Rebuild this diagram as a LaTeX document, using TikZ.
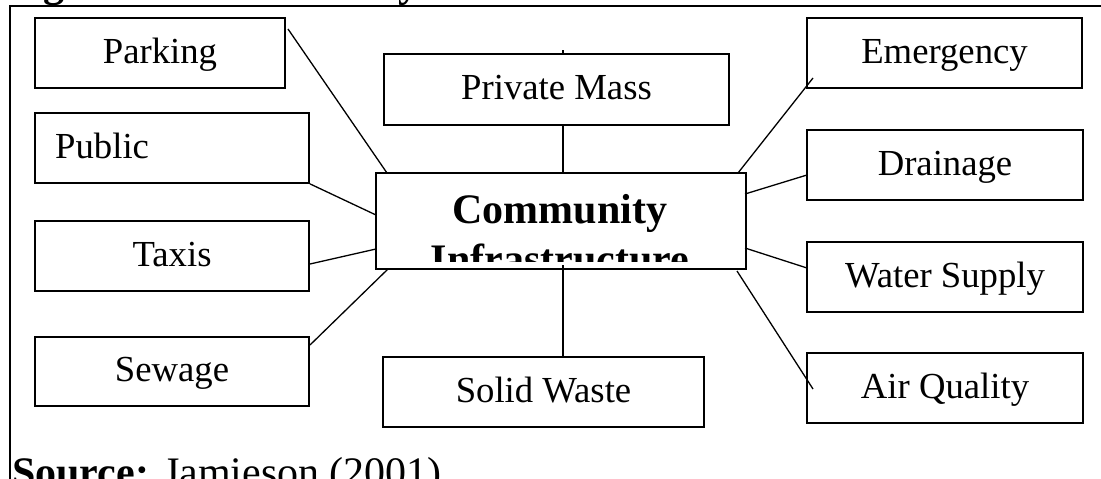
\documentclass[tikz,border=0pt]{standalone}
\usepackage{fontspec}
\setmainfont{Liberation Serif}
\begin{document}
\begin{tikzpicture}[x=1pt,y=-1pt,
  boxfont/.style={font=\fontsize{36.7}{44}\selectfont},
  bigfont/.style={font=\fontsize{42}{50}\selectfont},
  boldbig/.style={font=\fontsize{42}{50}\selectfont\bfseries},
  box/.style={draw, line width=1.6pt, inner sep=0pt, minimum height=70pt,
    text height=27pt, text depth=7pt, boxfont},
  link/.style={line width=1.3pt},
  txt/.style={inner sep=0pt}]
\useasboundingbox (0,0) rectangle (1101,479);
\clip (0,0) rectangle (1101,479);
% frame
\draw[line width=1.6pt] (10,6) rectangle (1130,520);
% title (cut off at top)
\node[txt, anchor=base west, boldbig] (title) at (6,-4) {Figure 10: Community};
% boxes
\node[box, minimum width=250pt] (park) at (160,53) {Parking};
\node[box, minimum width=274pt] (pub) at (172,148) {};
\node[txt, anchor=base west, boxfont] (pubt) at (55,158) {Public};
\node[box, minimum width=274pt] (taxi) at (172,256) {Taxis};
\node[box, minimum width=274pt, minimum height=69pt] (sew) at (172,371.5) {Sewage};
\node[box, minimum width=345pt, minimum height=71pt] (pm) at (556.5,89.5) {Private Mass};
\node[box, minimum width=321pt] (sw) at (543.5,392) {Solid Waste};
\node[box, minimum width=275pt] (emer) at (944.5,53) {Emergency};
\node[box, minimum width=276pt] (drain) at (945,165) {Drainage};
\node[box, minimum width=276pt] (water) at (945,277) {Water Supply};
\node[box, minimum width=276pt] (air) at (945,388) {Air Quality};
\node[box, minimum width=370pt, minimum height=96pt] (ci) at (561,221) {};
\begin{scope}
  \clip (378,175) rectangle (744,261);
  \node[txt, anchor=base, boldbig] (cit1) at (560,223) {Community};
  \node[txt, anchor=base, boldbig] (cit2) at (560,273) {Infrastructure};
\end{scope}
% connector end points
\coordinate (pa1) at (288,29);   \coordinate (pa2) at (387,173);
\coordinate (pu2) at (376,215);
\coordinate (ta1) at (310,264);  \coordinate (ta2) at (376,249);
\coordinate (se1) at (310,345);  \coordinate (se2) at (388,269);
\coordinate (pt0) at (563,50);   \coordinate (pt1) at (563,54);
\coordinate (pm1) at (563,125);  \coordinate (pm2) at (563,173);
\coordinate (sw1) at (563,265);  \coordinate (sw2) at (563,357);
\coordinate (em1) at (738,173);  \coordinate (em2) at (813,78);
\coordinate (dr1) at (745,194);  \coordinate (dr2) at (807,175);
\coordinate (wa1) at (745,248);  \coordinate (wa2) at (807,268);
\coordinate (ai1) at (737,271);  \coordinate (ai2) at (813,389);
% connectors
\draw[link] (pa1) -- (pa2);
\draw[link] (pub.south east) -- (pu2);
\draw[link] (ta1) -- (ta2);
\draw[link] (se1) -- (se2);
\draw[link] (pt0) -- (pt1);
\draw[link] (pm1) -- (pm2);
\draw[link] (sw1) -- (sw2);
\draw[link] (em1) -- (em2);
\draw[link] (dr1) -- (dr2);
\draw[link] (wa1) -- (wa2);
\draw[link] (ai1) -- (ai2);
% source
\node[txt, anchor=base west, bigfont] (src) at (12,486) {\textbf{Source:} Jamieson (2001)};
\end{tikzpicture}
\end{document}
